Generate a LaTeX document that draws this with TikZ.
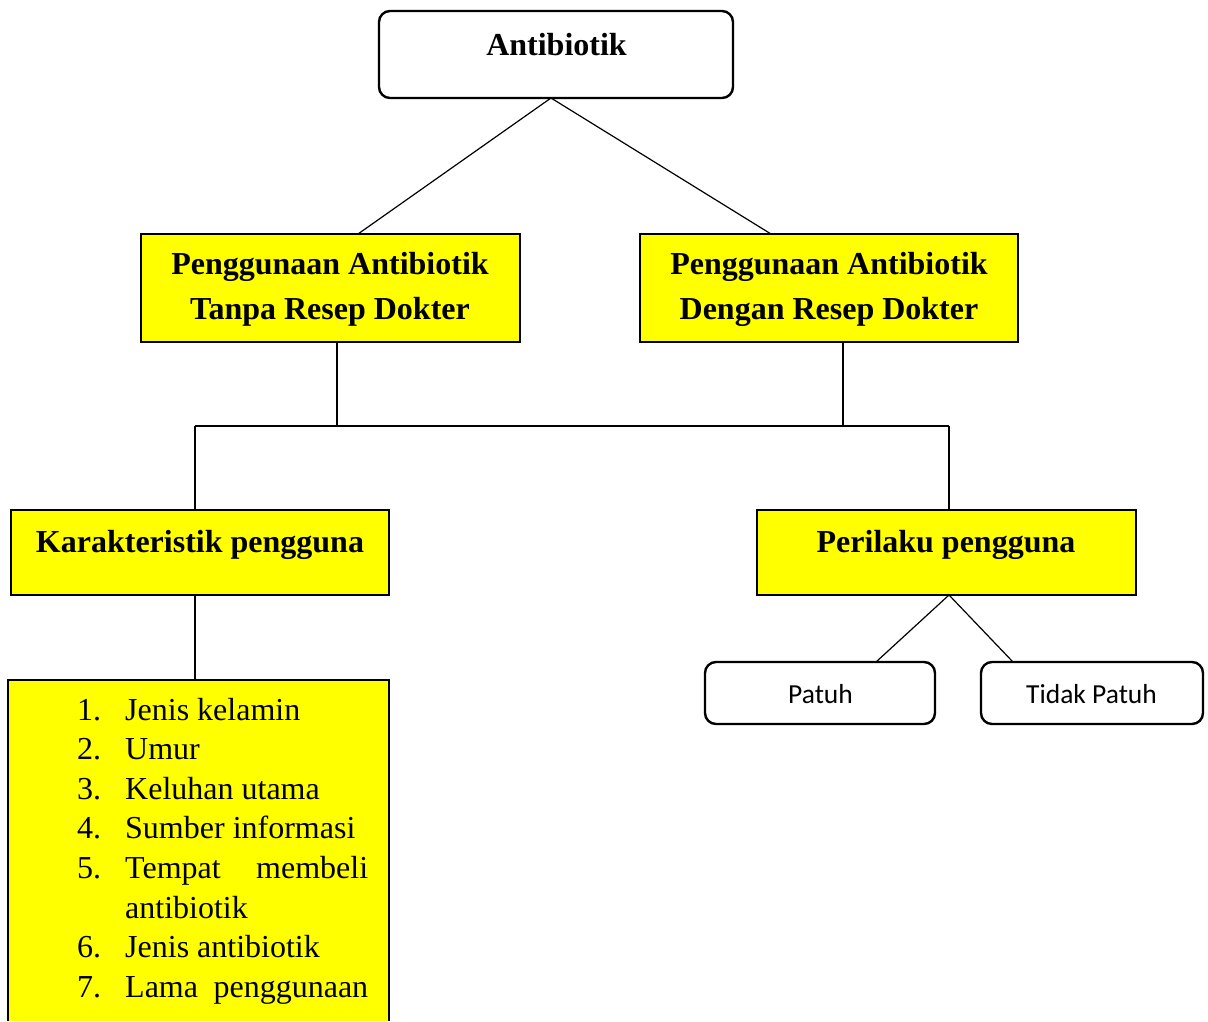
\documentclass[tikz,border=0pt]{standalone}
\usepackage{fontspec}
\setmainfont{Liberation Serif}
\newfontfamily\calibfont{Carlito}
\definecolor{boxyellow}{RGB}{255,255,0}
\begin{document}
\begin{tikzpicture}[x=1pt,y=-1pt,
  boxbase/.style={draw=black, line width=2.4pt, inner sep=0pt, outer sep=0pt, anchor=north west},
  ybox/.style={boxbase, fill=boxyellow},
  rbox/.style={boxbase, rounded corners=11pt, fill=white},
  link/.style={draw=black, line width=1.2pt},
  headtxt/.style={inner sep=0pt, anchor=base, font=\fontsize{32}{45}\selectfont\bfseries},
  listtxt/.style={inner sep=0pt, anchor=base west, font=\fontsize{32}{39.6}\selectfont},
  smalltxt/.style={inner sep=0pt, anchor=base, font=\calibfont\fontsize{27.5}{33}\selectfont}
]
\useasboundingbox (0,0) rectangle (1208,1021);

% boxes
\node[rbox, minimum width=354pt, minimum height=87pt] (top) at (379,11) {};
\node[ybox, minimum width=379pt, minimum height=108pt] (l1) at (141,234) {};
\node[ybox, minimum width=378pt, minimum height=108pt] (r1) at (640,234) {};
\node[ybox, minimum width=378pt, minimum height=85pt] (k) at (11,510) {};
\node[ybox, minimum width=379pt, minimum height=85pt] (p) at (757,510) {};
\node[boxbase, draw=none, fill=boxyellow, minimum width=381pt, minimum height=341pt] (list) at (8,680) {};
\draw[line width=2.4pt] (list.south west) -- (list.north west) -- (list.north east) -- (list.south east);
\node[rbox, minimum width=230pt, minimum height=62pt] (pat) at (705,662) {};
\node[rbox, minimum width=222pt, minimum height=62pt] (tp) at (981,662) {};

% texts
\node[headtxt] (ttop) at (556.5,55) {Antibiotik};
\node[headtxt] (tl1) at (330,274) {\begin{tabular}[t]{@{}c@{}}Penggunaan Antibiotik\\Tanpa Resep Dokter\end{tabular}};
\node[headtxt] (tr1) at (829,274) {\begin{tabular}[t]{@{}c@{}}Penggunaan Antibiotik\\Dengan Resep Dokter\end{tabular}};
\node[headtxt] (tk) at (200,552) {Karakteristik pengguna};
\node[headtxt] (tp1) at (946,552) {Perilaku pengguna};
\node[listtxt] (tlist) at (77,720) {\begin{tabular}[t]{@{}r@{\hspace{24pt}}l@{}}
1. & Jenis kelamin\\
2. & Umur\\
3. & Keluhan utama\\
4. & Sumber informasi\\
5. & \makebox[243pt][s]{Tempat membeli}\\
   & antibiotik\\
6. & Jenis antibiotik\\
7. & \makebox[243pt][s]{Lama penggunaan}
\end{tabular}};
\node[smalltxt] (tpat) at (820.5,703) {Patuh};
\node[smalltxt] (ttp) at (1091.5,703) {Tidak Patuh};

% reference x positions
\coordinate (xa) at (551,0);
\coordinate (xb) at (358,0);
\coordinate (xc) at (771,0);
\coordinate (xd) at (337,0);
\coordinate (xe) at (843,0);
\coordinate (busL) at (195,426);
\coordinate (busR) at (949,426);
\coordinate (xf) at (876,0);
\coordinate (xg) at (1013,0);

% connectors
\draw[link] (top.south -| xa) -- (l1.north -| xb);
\draw[link] (top.south -| xa) -- (r1.north -| xc);
\draw[link] (l1.south -| xd) -- (busL -| xd);
\draw[link] (r1.south -| xe) -- (busR -| xe);
\draw[link] (busL) -- (busR);
\draw[link] (busL) -- (k.north -| busL);
\draw[link] (busR) -- (p.north -| busR);
\draw[link] (k.south -| busL) -- (list.north -| busL);
\draw[link] (p.south -| busR) -- (pat.north -| xf);
\draw[link] (p.south -| busR) -- (tp.north -| xg);
\end{tikzpicture}
\end{document}
